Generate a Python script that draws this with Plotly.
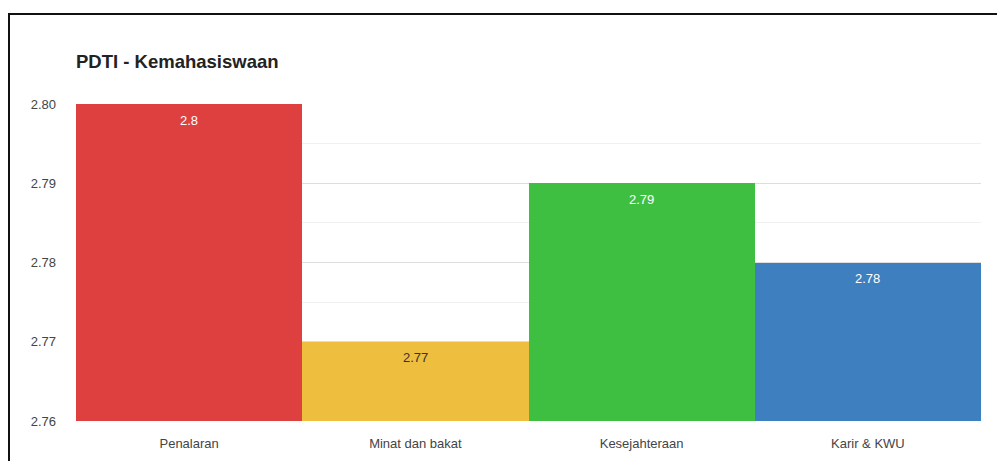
import plotly.graph_objects as go

categories = ["Penalaran", "Minat dan bakat", "Kesejahteraan", "Karir & KWU"]
values = [2.8, 2.77, 2.79, 2.78]
colors = ["#DE4040", "#EEBF3F", "#3EBF42", "#3E7FBF"]
label_colors = ["#ffffff", "#333333", "#ffffff", "#ffffff"]
y_ticks = [2.76, 2.77, 2.78, 2.79, 2.80]

# page has an 8px body margin, so figure coordinates are offset by 8px
W, H = 997, 453
L, R, T, B = 68, 24, 96, 40
pw, ph = W - L - R, H - T - B

fig = go.Figure(go.Bar(
    x=categories, y=values, marker=dict(color=colors, line=dict(width=0)),
    hoverinfo="skip"))

for c, v, lc in zip(categories, values, label_colors):
    fig.add_annotation(x=c, y=v, text=str(v), showarrow=False, yshift=-16,
                       font=dict(family="Liberation Sans, Arial", size=13, color=lc))

fig.add_shape(type="rect", xref="paper", yref="paper",
              x0=(1 - L) / pw, x1=1.2, y0=-0.5, y1=(H - B - 6) / ph,
              line=dict(color="#111111", width=2), layer="above")

fig.update_layout(
    width=W, height=H, margin=dict(l=L, r=R, t=T, b=B),
    paper_bgcolor="white", plot_bgcolor="white", bargap=0, showlegend=False,
    title=dict(text="<b>PDTI - Kemahasiswaan</b>", x=L / W, xanchor="left",
               y=1 - 54 / H, yanchor="middle",
               font=dict(family="Liberation Sans, Arial", size=18.5, color="#222222")),
    font=dict(family="Liberation Sans, Arial", size=13, color="#444444"),
)
fig.update_yaxes(range=[2.76, 2.80], tickvals=y_ticks, tickformat=".2f",
                 showgrid=True, gridcolor="#dddddd", gridwidth=1, zeroline=False,
                 ticklabelstandoff=19, showline=False, automargin=False,
                 minor=dict(dtick=0.005, showgrid=True, gridcolor="#f0f0f0", tick0=2.76))
fig.update_xaxes(showgrid=False, showline=False, ticks="", ticklabelstandoff=13,
                 automargin=False)

fig.write_html("out.html")
